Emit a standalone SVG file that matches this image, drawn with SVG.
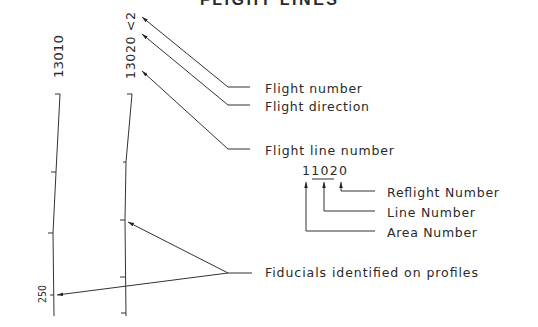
<svg xmlns="http://www.w3.org/2000/svg" width="538" height="327" viewBox="0 0 538 327">
<defs>
<style>
text{font-family:"DejaVu Sans","Liberation Sans",sans-serif;fill:#2a2a2a;}
.lbl{font-size:12.5px;}
.rot{font-size:12.5px;}
.ln{fill:none;stroke:#333;stroke-width:1;}
.ar{fill:none;stroke:#333;stroke-width:1;marker-start:url(#ah);}
.title{font-size:16px;font-weight:bold;font-family:"Liberation Sans",sans-serif;}
</style>
<marker id="ah" viewBox="0 0 10 6" refX="0" refY="3" markerWidth="6" markerHeight="3.6" orient="auto" markerUnits="userSpaceOnUse">
<path d="M0,3 L10,0 L10,6 Z" fill="#222"/>
</marker>
</defs>
<rect width="538" height="327" fill="#fff"/>
<text class="title" x="200" y="5" textLength="137" lengthAdjust="spacing">FLIGHT  LINES</text>
<g id="profile-13010">
<path class="ln" d="M55,94 H60 L56,172 L53,233 L54,316"/>
<path class="ln" d="M51,172 H56 M48,233 H53 M50,295 H54"/>
<text class="rot" transform="translate(63,78) rotate(-90)" textLength="43" lengthAdjust="spacingAndGlyphs">13010</text>
<text class="rot" style="font-size:10.5px" transform="translate(46,303) rotate(-90)" textLength="18" lengthAdjust="spacingAndGlyphs">250</text>
</g>
<g id="profile-13020">
<path class="ln" d="M127,94 H132 L126,162 L125,220 L126,316"/>
<path class="ln" d="M123,162 H126 M120,220 H125 M120,277 H126 M121,313 H126"/>
<text class="rot" transform="translate(135,79) rotate(-90)" textLength="67" lengthAdjust="spacing">13020 &lt;2</text>
</g>
<g id="connectors">
<path class="ar" d="M142,17 L228,87 H250"/>
<path class="ar" d="M142,34 L228,105 H250"/>
<path class="ar" d="M142,71 L228,149 H250"/>
<path class="ar" d="M306,182 V231 H375"/>
<path class="ar" d="M324,182 V211 H375"/>
<path class="ar" d="M341,182 V191 H375"/>
<path class="ar" d="M128,222 L228,273 H252"/>
<path class="ar" d="M57,295 L228,273"/>
</g>
<g id="label-flight-number"><text class="lbl" x="265" y="93" textLength="97" lengthAdjust="spacing">Flight  number</text></g>
<g id="label-flight-direction"><text class="lbl" x="265" y="111" textLength="104" lengthAdjust="spacing">Flight  direction</text></g>
<g id="label-flight-line-number"><text class="lbl" x="265" y="155" textLength="129" lengthAdjust="spacing">Flight  line  number</text></g>
<g id="code-11020">
<text class="lbl" x="302" y="175" textLength="45" lengthAdjust="spacing">11020</text>
<path class="ln" d="M312,179 H334"/>
</g>
<g id="label-reflight"><text class="lbl" x="387" y="197" textLength="112" lengthAdjust="spacing">Reflight  Number</text></g>
<g id="label-line"><text class="lbl" x="387" y="217" textLength="88" lengthAdjust="spacing">Line  Number</text></g>
<g id="label-area"><text class="lbl" x="387" y="237" textLength="90" lengthAdjust="spacing">Area  Number</text></g>
<g id="label-fiducials"><text class="lbl" x="265" y="277" textLength="213" lengthAdjust="spacing">Fiducials  identified  on  profiles</text></g>
</svg>
